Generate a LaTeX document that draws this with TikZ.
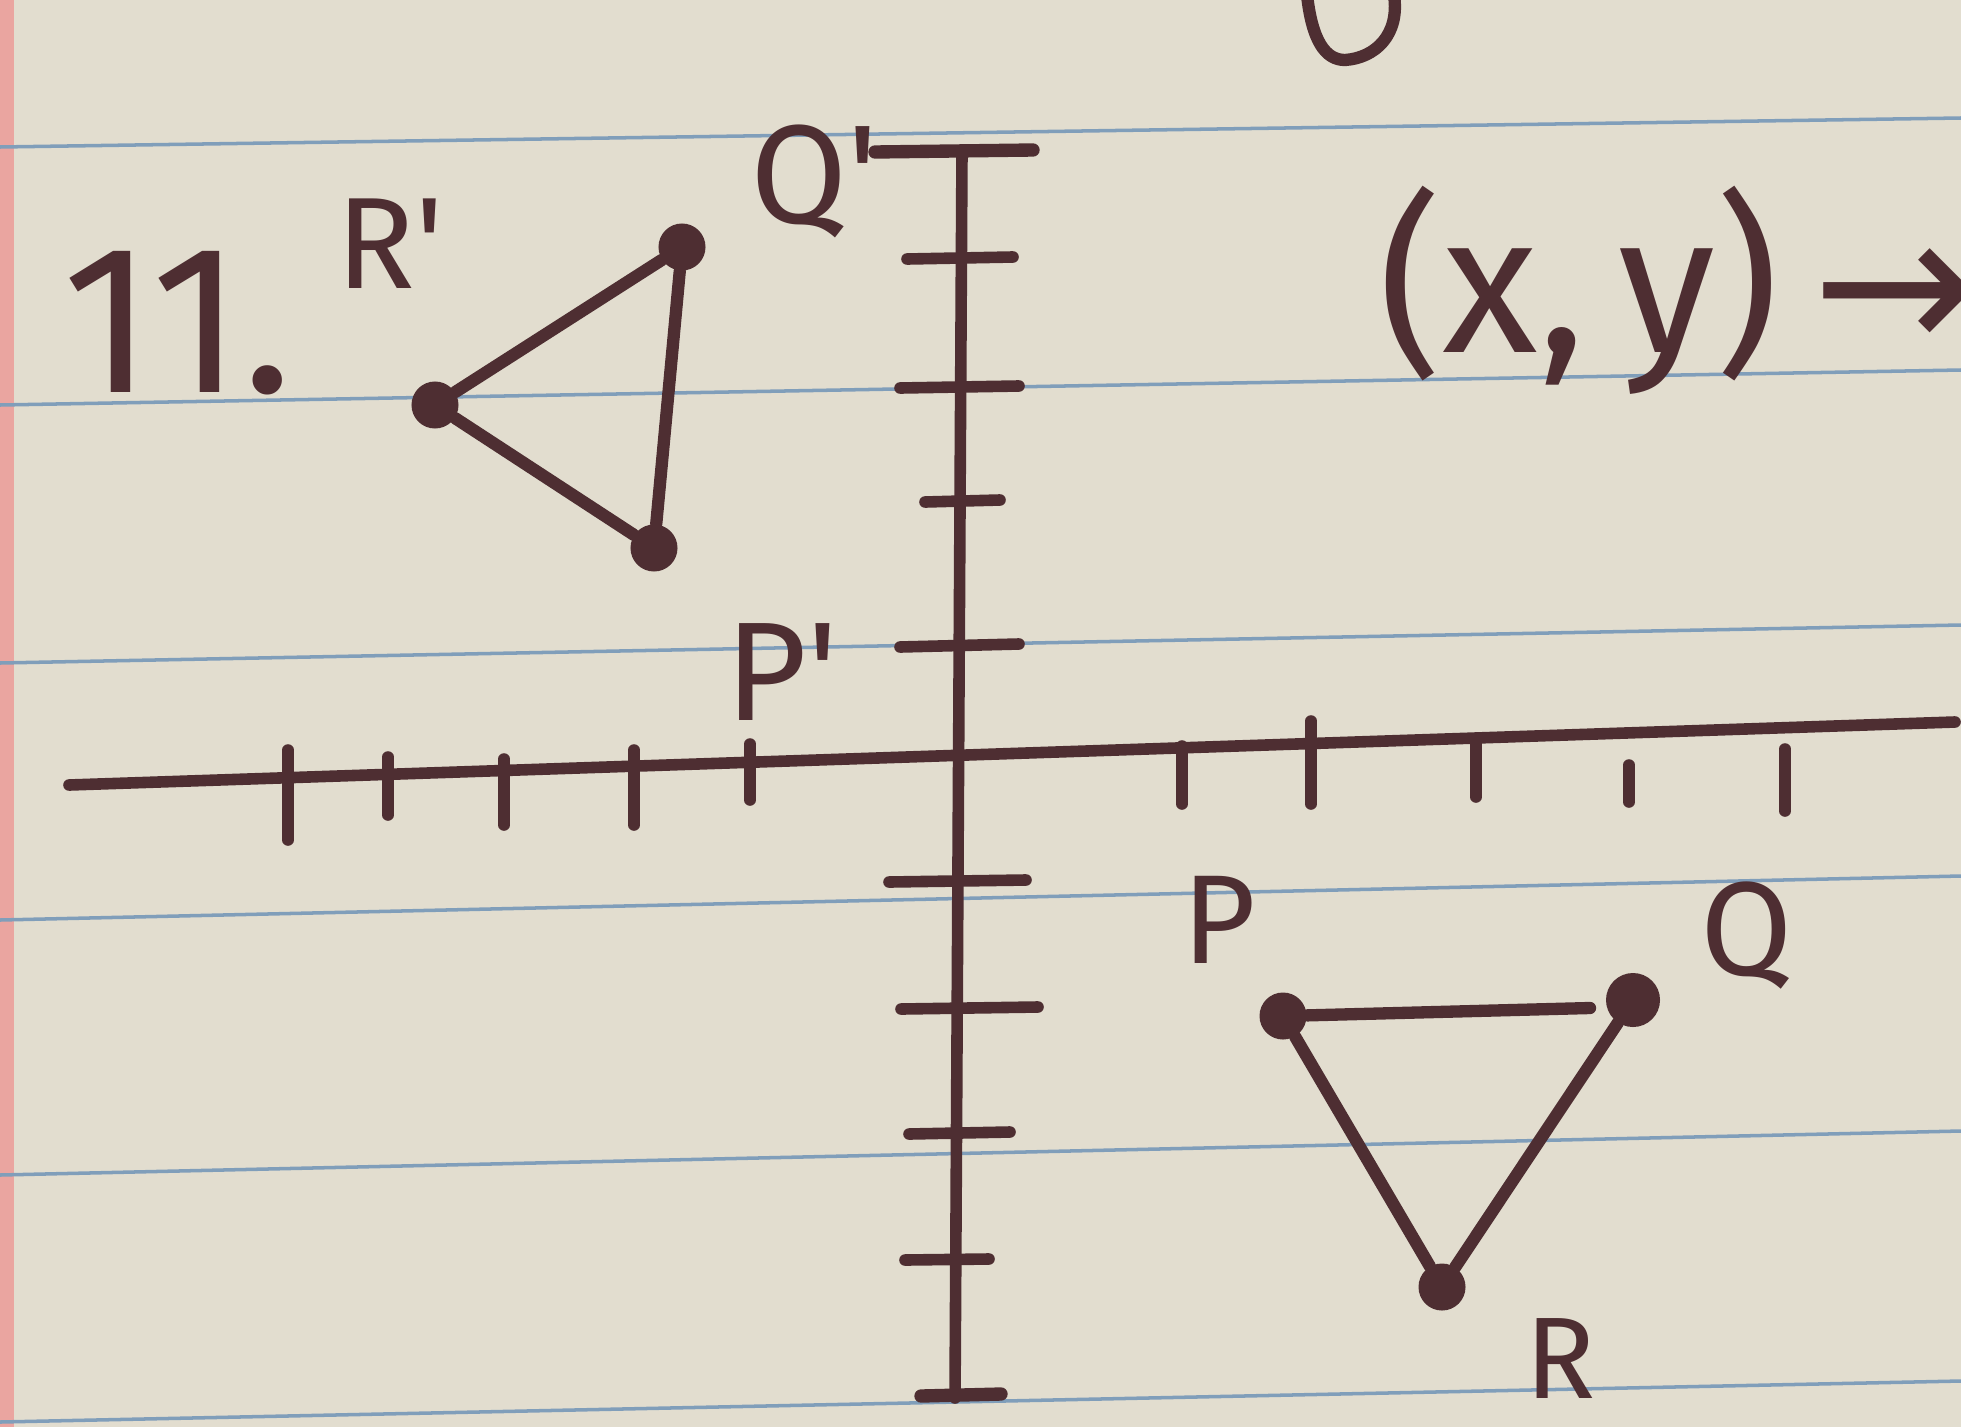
\documentclass[tikz,border=0pt]{standalone}
\usepackage{fontspec}
\setmainfont{Fira Sans}
\newfontfamily\dejavu{DejaVu Sans}
\definecolor{paper}{RGB}{226,221,207}
\definecolor{rulecol}{RGB}{128,158,186}
\definecolor{ink}{RGB}{78,46,50}
\definecolor{margincol}{RGB}{234,165,160}
\begin{document}
\begin{tikzpicture}[x=0.01cm,y=-0.01cm,line cap=round,line join=round,
  axisline/.style={draw=ink,line width=3.3pt},
  triline/.style={draw=ink,line width=3.5pt},
  tickline/.style={draw=ink,line width=3.3pt},
  capline/.style={draw=ink,line width=3.8pt},
  vdot/.style={circle,fill=ink,inner sep=0pt,minimum size=0.47cm},
  lbl/.style={text=ink,inner sep=0pt,anchor=base west},
  bluerule/.style={draw=rulecol,line width=1pt}]
\useasboundingbox (0,0) rectangle (1961,1427);
\clip (0,0) rectangle (1961,1427);
\fill[paper] (0,0) rectangle (1961,1427);
\fill[margincol] (0,0) rectangle (14,1427);
% ruled lines
\draw[bluerule] (0,147) -- (1961,118);
\draw[bluerule] (0,405) -- (1961,370);
\draw[bluerule] (0,663) -- (1961,625);
\draw[bluerule] (0,920) -- (1961,876);
\draw[bluerule] (0,1175) -- (1961,1131);
\draw[bluerule] (0,1422) -- (1961,1381);
% axes
\coordinate (xl) at (69,785);
\coordinate (xr) at (1955,722);
\coordinate (yt) at (962,150);
\coordinate (yb) at (955,1398);
\draw[axisline] (xl) -- (xr);
\draw[axisline] (yt) -- (yb);
\draw[capline] (875,152) -- (1033,150);
\draw[capline] (921,1396) -- (1001,1394);
% y ticks
\draw[tickline] (907,259) -- (1013,257);
\draw[tickline] (900,388) -- (1019,386);
\draw[tickline] (925,502) -- (1000,500);
\draw[tickline] (900,647) -- (1019,644);
\draw[tickline] (889,882) -- (1026,880);
\draw[tickline] (901,1009) -- (1038,1007);
\draw[tickline] (909,1134) -- (1010,1132);
\draw[tickline] (905,1260) -- (989,1259);
% x ticks
\draw[tickline] (288,750) -- (288,840);
\draw[tickline] (388,757) -- (388,815);
\draw[tickline] (504,759) -- (504,825);
\draw[tickline] (634,750) -- (634,825);
\draw[tickline] (750,744) -- (750,800);
\draw[tickline] (1182,746) -- (1182,804);
\draw[tickline] (1311,721) -- (1311,804);
\draw[tickline] (1476,739) -- (1476,797);
\draw[tickline] (1629,765) -- (1629,802);
\draw[tickline] (1785,749) -- (1785,811);
% image triangle
\node[vdot] (Rp) at (435,405) {};
\node[vdot] (Qp) at (682,247) {};
\node[vdot] (Pp) at (654,548) {};
\draw[triline] (Rp) -- (Qp);
\draw[triline] (Qp) -- (Pp);
\draw[triline] (Pp) -- (Rp);
% pre-image triangle
\node[vdot] (P) at (1283,1016) {};
\node[vdot,minimum width=0.40cm,minimum height=0.54cm] (Q) at (1633,1000) {};
\node[vdot] (R) at (1442,1287) {};
\coordinate (PQend) at (1590,1008);
\draw[triline] (P) -- (PQend);
\draw[triline] (Q) -- (R);
\draw[triline] (R) -- (P);
% fragment at top edge
\draw[triline] (1307,-5) .. controls (1312,40) and (1325,60) .. (1345,60) .. controls (1375,58) and (1400,35) .. (1394,-5);
% labels
\node[lbl,font=\fontsize{60}{60}\selectfont] (num) at (62,392) {11.};
\node[lbl,font=\fontsize{37}{37}\selectfont] (Rplab) at (336,288) {R\textquotesingle};
\node[lbl,font=\fontsize{40}{40}\selectfont] (Qplab) at (750,223) {Q\textquotesingle};
\node[lbl,font=\fontsize{40}{40}\selectfont] (Pplab) at (725,720) {P\textquotesingle};
\node[lbl,font=\fontsize{36}{36}\selectfont] (Plab) at (1182,963) {P};
\node[lbl,font=\fontsize{38}{38}\selectfont] (Qlab) at (1700,975) {Q};
\node[lbl,font=\fontsize{33}{33}\selectfont] (Rlab) at (1525,1398) {R};
\node[lbl,font=\fontsize{56}{56}\selectfont] (rule) at (1378,352) {(x,\,y)\,{\dejavu →}};
\end{tikzpicture}
\end{document}
